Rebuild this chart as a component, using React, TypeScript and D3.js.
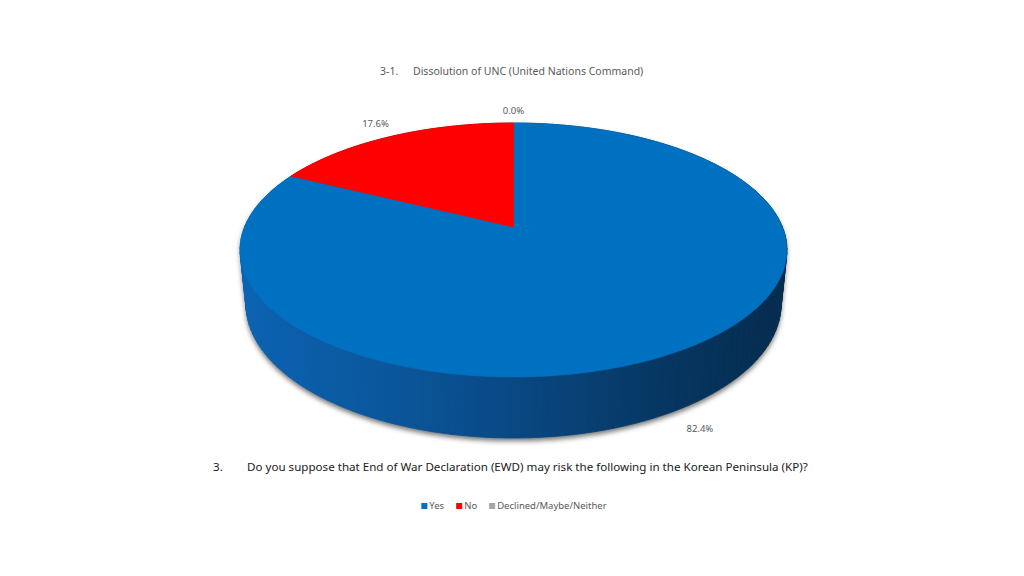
import React from "react";
import * as d3 from "d3";

const categories = ["Yes", "No", "Declined/Maybe/Neither"];
const values = [82.4, 17.6, 0.0];
const colors = ["#0070C0", "#FF0000", "#A5A5A5"];
const sideColors = ["url(#sideBlue)", "#8a0000", "#6e6e6e"];
const chartTitle = ["3-1.", "Dissolution of UNC (United Nations Command)"];
const questionTitle = ["3.", "Do you suppose that End of War Declaration (EWD) may risk the following in the Korean Peninsula (KP)?"];

const W = 1024;
const H = 576;

// perspective projection of the tilted disc
const CX = 513.5;
const CY = 227;
const F = 1321.7;
const DIST = 4.915;
const SIN_A = 0.4567;
const COS_A = 0.8897;
const THICK = 0.2276;

function proj(X: number, Y: number, Z: number): [number, number] {
  const yc = Y * COS_A + Z * SIN_A;
  const zc = DIST + Z * COS_A - Y * SIN_A;
  return [CX + (F * X) / zc, CY - (F * yc) / zc];
}
function rim(phi: number, r: number, Y: number): [number, number] {
  return proj(r * Math.sin(phi), Y, r * Math.cos(phi));
}

const measureCanvas = typeof document !== "undefined" ? document.createElement("canvas") : null;
function textWidth(t: string, font: string) {
  if (!measureCanvas) return t.length * 5;
  const ctx = measureCanvas.getContext("2d")!;
  ctx.font = font;
  return ctx.measureText(t).width;
}

export default function App() {
  const pie = d3.pie<number>().sort(null).value((d) => d);
  const arcs = pie(values);
  const line = d3.line();
  const STEP = Math.PI / 180;

  // top faces
  const tops = arcs.map((a, i) => {
    if (a.endAngle - a.startAngle <= 0) return null;
    const pts: [number, number][] = [proj(0, 0, 0)];
    const n = Math.max(2, Math.ceil((a.endAngle - a.startAngle) / STEP));
    for (let k = 0; k <= n; k++) {
      const phi = a.startAngle + ((a.endAngle - a.startAngle) * k) / n;
      pts.push(rim(phi, 1, 0));
    }
    return <path key={"t" + i} d={line(pts)! + "Z"} fill={colors[i]} stroke={colors[i]} strokeWidth={0.6} />;
  });

  // side wall quads, sorted far to near
  const quads: { z: number; d: string; fill: string }[] = [];
  arcs.forEach((a, i) => {
    if (a.endAngle - a.startAngle <= 0) return;
    const n = Math.max(1, Math.ceil((a.endAngle - a.startAngle) / (2 * STEP)));
    for (let k = 0; k < n; k++) {
      const p0 = a.startAngle + ((a.endAngle - a.startAngle) * k) / n;
      const p1 = a.startAngle + ((a.endAngle - a.startAngle) * (k + 1)) / n;
      const pts = [rim(p0, 1, 0), rim(p1, 1, 0), rim(p1, 1, -THICK), rim(p0, 1, -THICK)];
      quads.push({ z: Math.cos((p0 + p1) / 2), d: line(pts)! + "Z", fill: sideColors[i] });
    }
  });
  quads.sort((a, b) => b.z - a.z);

  // shadow outline: bottom disc
  const bottomPts: [number, number][] = d3.range(0, 361, 2).map((deg) => rim((deg * Math.PI) / 180, 1, -THICK));

  // labels
  const fmt = d3.format(".1f");
  const labels = arcs.map((a, i) => {
    const mid = (a.startAngle + a.endAngle) / 2;
    const front = Math.cos(mid) < 0;
    const [x, y] = front ? rim(mid, 1.12, -THICK) : rim(mid, a.endAngle - a.startAngle > 0 ? 1.15 : 1.13, 0);
    return (
      <text key={"l" + i} x={x} y={y} textAnchor="middle" dominantBaseline="middle" fontSize={9.5} fill="#595959">
        {fmt(values[i])}%
      </text>
    );
  });

  // legend
  const legendFont = "9.5px 'Noto Sans'";
  const sw = 6;
  const gap = 2;
  const itemGap = 12;
  const widths = categories.map((c) => sw + gap + textWidth(c, legendFont));
  const total = d3.sum(widths) + itemGap * (categories.length - 1);
  let lx = W / 2 - total / 2 + 2;
  const legendY = 506;
  const legend = categories.map((c, i) => {
    const x0 = lx;
    lx += widths[i] + itemGap;
    return (
      <g key={"g" + i}>
        <rect x={x0} y={legendY - sw / 2} width={sw} height={sw} fill={colors[i]} />
        <text x={x0 + sw + gap} y={legendY} dominantBaseline="middle" fontSize={9.5} fill="#595959">
          {c}
        </text>
      </g>
    );
  });

  return (
    <svg
      width={W}
      height={H}
      style={{ position: "absolute", left: 0, top: 0, background: "#fff", fontFamily: "'Noto Sans', 'Open Sans', sans-serif" }}
    >
      <defs>
        <linearGradient id="sideBlue" gradientUnits="userSpaceOnUse" x1={240} y1={0} x2={787} y2={0}>
          <stop offset="0" stopColor="#0b63b3" />
          <stop offset="0.3" stopColor="#0a5599" />
          <stop offset="0.5" stopColor="#094883" />
          <stop offset="0.75" stopColor="#063864" />
          <stop offset="1" stopColor="#042b4d" />
        </linearGradient>
        <filter id="shadow" x="-10%" y="-10%" width="120%" height="130%">
          <feGaussianBlur stdDeviation="2.5" />
        </filter>
      </defs>

      <text x={380} y={72} dominantBaseline="middle" fontSize={10.5} fill="#595959">
        {chartTitle[0]}
      </text>
      <text x={413} y={72} dominantBaseline="middle" fontSize={10.5} fill="#595959">
        {chartTitle[1]}
      </text>

      <g filter="url(#shadow)" transform="translate(0,3)" opacity={0.75}>
        <path d={line(bottomPts)! + "Z"} fill="#4a4a4a" />
        {quads.map((q, i) => (
          <path key={"s" + i} d={q.d} fill="#4a4a4a" />
        ))}
      </g>

      {quads.map((q, i) => (
        <path key={"q" + i} d={q.d} fill={q.fill} stroke={q.fill} strokeWidth={0.8} />
      ))}
      {tops}
      {labels}

      <text x={213} y={468} dominantBaseline="middle" fontSize={11.6} fill="#1a1a1a">
        {questionTitle[0]}
      </text>
      <text x={247} y={468} dominantBaseline="middle" fontSize={11.6} fill="#1a1a1a">
        {questionTitle[1]}
      </text>

      {legend}
    </svg>
  );
}
